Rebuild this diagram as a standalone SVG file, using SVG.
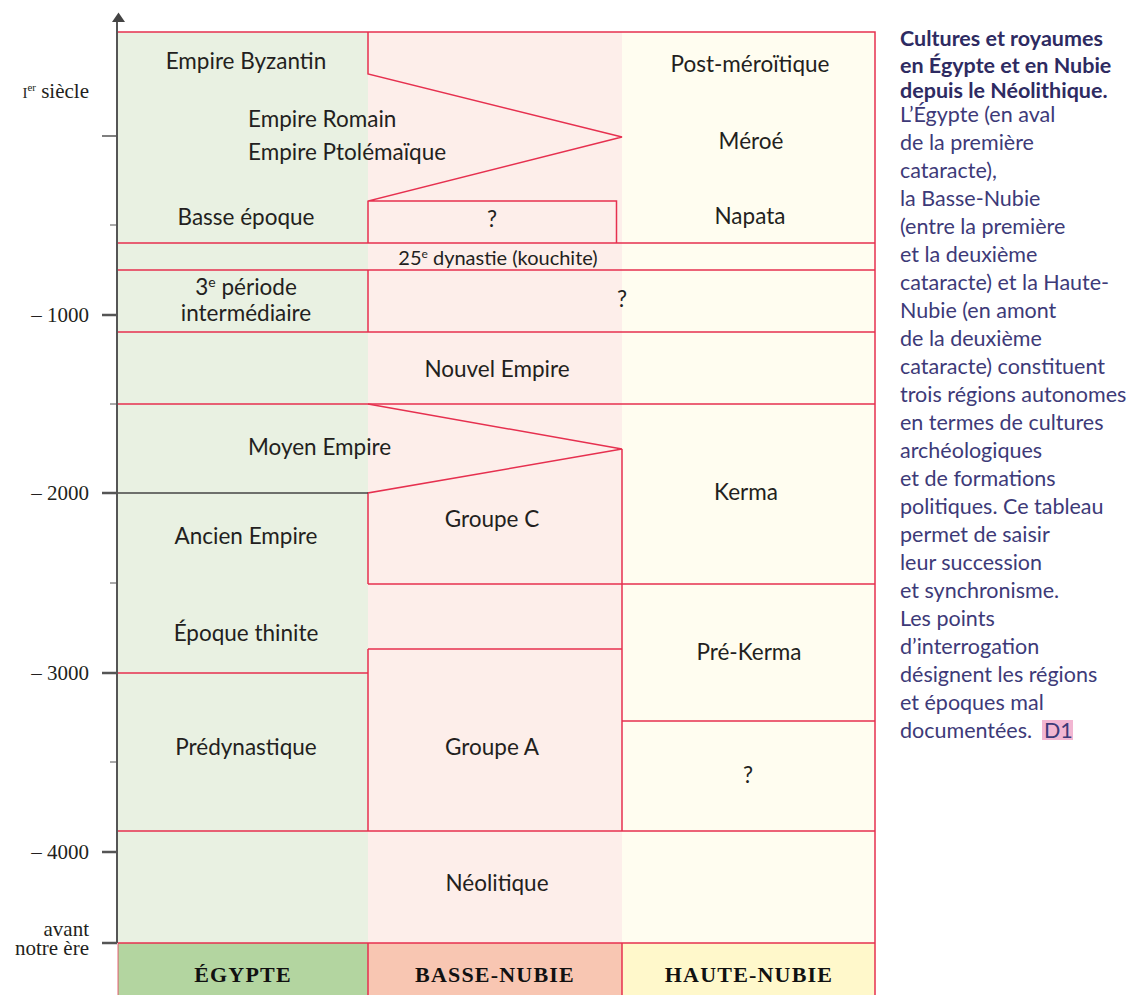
<svg xmlns="http://www.w3.org/2000/svg" width="1134" height="995" viewBox="0 0 1134 995">
<style>
.lb{font-family:Lato,"Open Sans",sans-serif;font-size:22.5px;fill:#231f20;text-anchor:middle}
.ls{text-anchor:start}
.sm{font-size:20px}
.ax{font-family:"Liberation Serif",serif;font-size:21px;fill:#231f20;text-anchor:end}
.hd{font-family:"Liberation Serif",serif;font-size:22px;font-weight:bold;fill:#111;text-anchor:middle;letter-spacing:1.2px}
.ds{font-family:Lato,"Open Sans",sans-serif;font-size:21.5px;fill:#3d3a78}
.dt{font-weight:bold;fill:#2e2b62}
.rl{fill:none;stroke:#e6304f;stroke-width:1.5}
.tk{stroke:#555;fill:none}
</style>
<rect width="1134" height="995" fill="#fff"/>
<g id="columns">
<rect x="118" y="32" width="250" height="911" fill="#e9f1e2"/>
<rect x="368" y="32" width="254" height="911" fill="#fdeeea"/>
<rect x="622" y="32" width="253" height="911" fill="#fffdf0"/>
</g>
<g id="headers">
<rect x="118" y="943" width="250" height="52" fill="#b3d5a0"/>
<rect x="368" y="943" width="254" height="52" fill="#f8c6b2"/>
<rect x="622" y="943" width="253" height="52" fill="#fff8cb"/>
<text class="hd" x="243" y="982">ÉGYPTE</text>
<text class="hd" x="495" y="982">BASSE-NUBIE</text>
<text class="hd" x="749" y="982">HAUTE-NUBIE</text>
</g>
<g id="connectors">
<path class="rl" d="M118 32H875V995M118 943H875M368 943V995M622 943V995"/>
<path class="rl" d="M118 943V995" stroke-opacity="0.5"/>
<path class="rl" d="M368 32V74L622 137L368 201V243M368 201H616.5V243"/>
<path class="rl" d="M118 243H875M118 270H875M368 270V332M118 332H875M118 404H875"/>
<path class="rl" d="M368 404L622 449L368 493V584M368 584H875M622 449V831"/>
<path class="rl" d="M368 649H622M368 649V831M118 673H368M622 721H875M118 831H875"/>
<path d="M117 493H368" stroke="#444" stroke-width="1.5"/>
</g>
<g id="axis">
<path class="tk" d="M117 22V943" stroke-width="2"/>
<polygon points="112,22 125,22 118.5,12.5" fill="#444"/>
<path class="tk" d="M102 136H117" stroke-width="1.5"/>
<path class="tk" d="M110 225H117M110 404H117M110 583H117M110 762H117" stroke-width="1"/>
<path class="tk" d="M102 315H117M102 493H117M102 673H117M102 852H117M102 943H117" stroke-width="2.5"/>
<text class="ax" x="89" y="98"><tspan font-size="15">I</tspan><tspan font-size="11" dy="-7">er</tspan><tspan dy="7"> siècle</tspan></text>
<text class="ax" x="89" y="322">– 1000</text>
<text class="ax" x="89" y="500">– 2000</text>
<text class="ax" x="89" y="680">– 3000</text>
<text class="ax" x="89" y="859">– 4000</text>
<text class="ax" x="89" y="936">avant</text>
<text class="ax" x="89" y="955">notre ère</text>
</g>
<g id="egypte">
<text class="lb" x="246" y="69">Empire Byzantin</text>
<text class="lb ls" x="248" y="127">Empire Romain</text>
<text class="lb ls" x="248" y="160">Empire Ptolémaïque</text>
<text class="lb" x="246" y="225">Basse époque</text>
<text class="lb" x="246" y="295">3<tspan font-size="14" dy="-8">e</tspan><tspan dy="8"> période</tspan></text>
<text class="lb" x="246" y="321">intermédiaire</text>
<text class="lb ls" x="248" y="455">Moyen Empire</text>
<text class="lb" x="246" y="544">Ancien Empire</text>
<text class="lb" x="246" y="641">Époque thinite</text>
<text class="lb" x="246" y="755">Prédynastique</text>
</g>
<g id="shared">
<text class="lb sm" x="498" y="265">25<tspan font-size="12" dy="-7">e</tspan><tspan dy="7"> dynastie (kouchite)</tspan></text>
<text class="lb" x="622" y="307">?</text>
<text class="lb" x="497" y="377">Nouvel Empire</text>
<text class="lb" x="497" y="891">Néolitique</text>
</g>
<g id="basse-nubie">
<text class="lb" x="492" y="227">?</text>
<text class="lb" x="492" y="527">Groupe C</text>
<text class="lb" x="492" y="755">Groupe A</text>
</g>
<g id="haute-nubie">
<text class="lb" x="750" y="72">Post-méroïtique</text>
<text class="lb" x="751" y="149">Méroé</text>
<text class="lb" x="750" y="224">Napata</text>
<text class="lb" x="746" y="500">Kerma</text>
<text class="lb" x="749" y="660">Pré-Kerma</text>
<text class="lb" x="748" y="783">?</text>
</g>
<g id="description">
<rect x="1042" y="720" width="31" height="20" fill="#f2b6d2"/>
<text class="ds dt" x="900" y="46">Cultures et royaumes</text>
<text class="ds dt" x="900" y="73">en Égypte et en Nubie</text>
<text class="ds dt" x="900" y="98">depuis le Néolithique.</text>
<text class="ds" x="900" y="122">L’Égypte (en aval</text>
<text class="ds" x="900" y="150">de la première</text>
<text class="ds" x="900" y="178">cataracte),</text>
<text class="ds" x="900" y="206">la Basse-Nubie</text>
<text class="ds" x="900" y="234">(entre la première</text>
<text class="ds" x="900" y="262">et la deuxième</text>
<text class="ds" x="900" y="290">cataracte) et la Haute-</text>
<text class="ds" x="900" y="318">Nubie (en amont</text>
<text class="ds" x="900" y="346">de la deuxième</text>
<text class="ds" x="900" y="374">cataracte) constituent</text>
<text class="ds" x="900" y="402">trois régions autonomes</text>
<text class="ds" x="900" y="430">en termes de cultures</text>
<text class="ds" x="900" y="458">archéologiques</text>
<text class="ds" x="900" y="486">et de formations</text>
<text class="ds" x="900" y="514">politiques. Ce tableau</text>
<text class="ds" x="900" y="542">permet de saisir</text>
<text class="ds" x="900" y="570">leur succession</text>
<text class="ds" x="900" y="598">et synchronisme.</text>
<text class="ds" x="900" y="626">Les points</text>
<text class="ds" x="900" y="654">d’interrogation</text>
<text class="ds" x="900" y="682">désignent les régions</text>
<text class="ds" x="900" y="710">et époques mal</text>
<text class="ds" x="900" y="738">documentées.</text>
<text class="ds" x="1044" y="738">D1</text>
</g>
</svg>
